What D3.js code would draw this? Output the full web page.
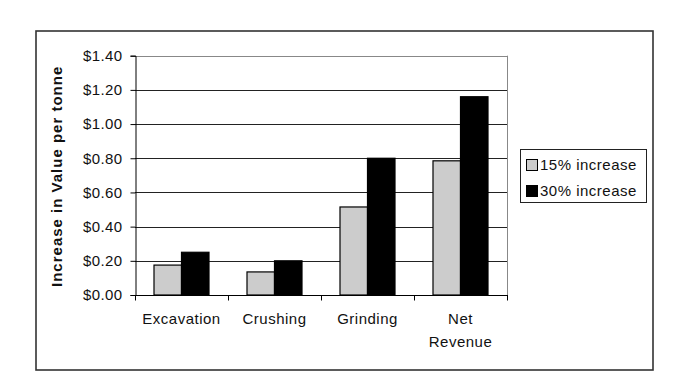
<!DOCTYPE html>
<html><head><meta charset="utf-8">
<script src="https://cdn.jsdelivr.net/npm/d3@7"></script>
<style>
html,body{margin:0;padding:0;background:#fff;}
svg{display:block;}
text{font-family:"Liberation Sans",Arial,sans-serif;fill:#111;}
</style></head>
<body>
<script>
const categories = ["Excavation", "Crushing", "Grinding", "Net Revenue"];
const categoryLines = [["Excavation"], ["Crushing"], ["Grinding"], ["Net", "Revenue"]];
const seriesNames = ["15% increase", "30% increase"];
const increase15 = [0.175, 0.135, 0.515, 0.785];
const increase30 = [0.25, 0.20, 0.80, 1.16];
const yTicks = [0, 0.2, 0.4, 0.6, 0.8, 1.0, 1.2, 1.4];
const seriesColors = ["#cccccc", "#000000"];
const yTitle = "Increase in Value per tonne";

const W = 689, H = 386;
const svg = d3.select("body").append("svg").attr("width", W).attr("height", H);

// outer chart border
svg.append("rect").attr("x", 36).attr("y", 31).attr("width", 617).attr("height", 339)
  .attr("fill", "none").attr("stroke", "#333").attr("stroke-width", 1.6);

const plot = {left: 135, right: 507, top: 55.7, bottom: 295};
const x = d3.scaleBand().domain(categories).range([plot.left, plot.right]).paddingInner(0).paddingOuter(0);
const xs = d3.scaleBand().domain(seriesNames).range([19, x.bandwidth() - 19]).padding(0);
const y = d3.scaleLinear().domain([0, 1.4]).range([plot.bottom, plot.top]);

// gridlines
svg.append("g").selectAll("line").data(yTicks.filter(t => t > 0)).join("line")
  .attr("x1", plot.left).attr("x2", plot.right)
  .attr("y1", d => Math.round(y(d)) + 0.5).attr("y2", d => Math.round(y(d)) + 0.5)
  .attr("stroke", d => d === 1.4 ? "#888" : "#222").attr("stroke-width", 1);
// right plot border
svg.append("line").attr("x1", plot.right + 0.5).attr("x2", plot.right + 0.5)
  .attr("y1", plot.top).attr("y2", plot.bottom).attr("stroke", "#888");

// bars
const data = categories.map((c, i) => ({cat: c, vals: [increase15[i], increase30[i]]}));
const groups = svg.append("g").selectAll("g").data(data).join("g")
  .attr("transform", d => `translate(${x(d.cat)},0)`);
groups.selectAll("rect").data(d => d.vals.map((v, j) => ({v, s: seriesNames[j], j}))).join("rect")
  .attr("x", d => xs(d.s)).attr("width", xs.bandwidth())
  .attr("y", d => y(d.v)).attr("height", d => y(0) - y(d.v))
  .attr("fill", d => seriesColors[d.j]).attr("stroke", "#000").attr("stroke-width", 1.2);

// y axis
const yAxis = d3.axisLeft(y).tickValues(yTicks).tickSize(5).tickPadding(8)
  .tickFormat(d => "$" + d3.format(".2f")(d));
const ya = svg.append("g").attr("transform", `translate(${plot.left + 0.5},0)`).call(yAxis);
ya.select(".domain").attr("stroke", "#000");
ya.selectAll(".tick line").attr("stroke", "#000");
ya.selectAll(".tick text").attr("font-size", 15).attr("letter-spacing", "0.4px").attr("fill", "#111")
  .attr("font-family", '"Liberation Sans",Arial,sans-serif');

// x axis
const xa = svg.append("g").attr("transform", `translate(0,${plot.bottom + 0.5})`);
xa.append("line").attr("x1", plot.left).attr("x2", plot.right + 1).attr("stroke", "#000");
xa.selectAll("line.tk").data(categories.map(c => x(c)).concat([plot.right])).join("line")
  .attr("class", "tk").attr("x1", d => d + 0.5).attr("x2", d => d + 0.5)
  .attr("y1", 0).attr("y2", 5).attr("stroke", "#000");
const xl = svg.append("g").selectAll("text").data(categories).join("text")
  .attr("text-anchor", "middle").attr("font-size", 15).attr("letter-spacing", "0.5px")
  .attr("x", d => x(d) + x.bandwidth() / 2).attr("y", 324);
xl.each(function(d, i) {
  const t = d3.select(this);
  categoryLines[i].forEach((ln, k) => {
    t.append("tspan").attr("x", x(d) + x.bandwidth() / 2).attr("dy", k === 0 ? 0 : 23).text(ln);
  });
});

// y title
svg.append("text").attr("transform", `translate(62,${(plot.top + plot.bottom) / 2 + 1}) rotate(-90)`)
  .attr("text-anchor", "middle").attr("font-size", 15).attr("font-weight", "bold")
  .attr("letter-spacing", "1px").text(yTitle);

// legend
const lg = svg.append("g");
lg.append("rect").attr("x", 520.5).attr("y", 149.5).attr("width", 126).attr("height", 53)
  .attr("fill", "#fff").attr("stroke", "#222").attr("stroke-width", 1);
const li = lg.selectAll("g.it").data(seriesNames).join("g").attr("class", "it")
  .attr("transform", (d, i) => `translate(526,${159 + i * 26})`);
li.append("rect").attr("x", 0.5).attr("y", 0.5).attr("width", 11).attr("height", 11)
  .attr("fill", (d, i) => seriesColors[i]).attr("stroke", "#000");
li.append("text").attr("x", 14).attr("y", 11).attr("font-size", 15).attr("letter-spacing", "0.5px").text(d => d);
</script>
</body></html>
